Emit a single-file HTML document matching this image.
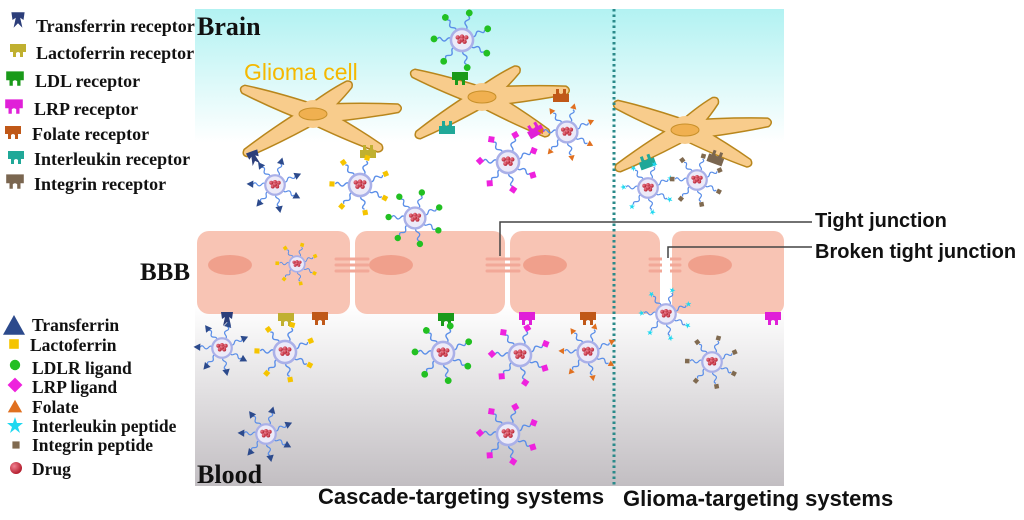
<!DOCTYPE html>
<html><head><meta charset="utf-8">
<style>
html,body{margin:0;padding:0;background:#fff;width:1024px;height:520px;overflow:hidden}
svg{display:block}
.lg{font-family:"Liberation Serif",serif;font-weight:bold;font-size:17.5px;fill:#111}
.sn{font-family:"Liberation Sans",sans-serif;font-weight:bold;fill:#111}
</style></head><body>
<svg id="s" width="1024" height="520" viewBox="0 0 1024 520" xmlns="http://www.w3.org/2000/svg">
<defs>
<linearGradient id="bg" x1="0" y1="0" x2="0" y2="1">
<stop offset="0" stop-color="#b2f2f2"/>
<stop offset="0.28" stop-color="#ffffff"/>
<stop offset="0.62" stop-color="#ffffff"/>
<stop offset="1" stop-color="#c2bec2"/>
</linearGradient>
<radialGradient id="dr" cx="0.35" cy="0.35" r="0.7"><stop offset="0" stop-color="#f08090"/><stop offset="1" stop-color="#b01828"/></radialGradient>
</defs>
<rect x="195" y="9" width="589" height="477" fill="url(#bg)"/>
<g id="cells"></g>
<g id="bbb">
<rect x="197" y="231" width="153" height="83" rx="12" fill="#f8c4b4"/>
<rect x="355" y="231" width="150" height="83" rx="12" fill="#f8c4b4"/>
<rect x="510" y="231" width="150" height="83" rx="12" fill="#f8c4b4"/>
<rect x="672" y="231" width="112" height="83" rx="10" fill="#f8c4b4"/>
<ellipse cx="230" cy="265" rx="22" ry="10" fill="#f0a08c"/>
<ellipse cx="391" cy="265" rx="22" ry="10" fill="#f0a08c"/>
<ellipse cx="545" cy="265" rx="22" ry="10" fill="#f0a08c"/>
<ellipse cx="710" cy="265" rx="22" ry="10" fill="#f0a08c"/>
<g stroke="#f2a898" stroke-width="3" stroke-linecap="round">
<line x1="336" y1="259" x2="368" y2="259"/><line x1="336" y1="265" x2="368" y2="265"/><line x1="336" y1="271" x2="368" y2="271"/>
<line x1="487" y1="259" x2="519" y2="259"/><line x1="487" y1="265" x2="519" y2="265"/><line x1="487" y1="271" x2="519" y2="271"/>
<line x1="650" y1="259" x2="680" y2="259"/><line x1="650" y1="265" x2="680" y2="265"/><line x1="650" y1="271" x2="680" y2="271"/>
</g>
<rect x="662" y="231" width="8" height="83" fill="#fff"/>
</g>
<line x1="614" y1="9" x2="614" y2="486" stroke="#2a8a8a" stroke-width="3" stroke-dasharray="2.5,3"/>
<polyline points="500,256 500,222 812,222" fill="none" stroke="#444" stroke-width="1.5"/>
<polyline points="668,258 668,247 812,247" fill="none" stroke="#444" stroke-width="1.5"/>
<g id="rec"></g>
<g id="np"></g>
<text x="197" y="35" class="lg" style="font-size:26px">Brain</text>
<text x="140" y="280" class="lg" style="font-size:25px">BBB</text>
<text x="197" y="483" class="lg" style="font-size:26px">Blood</text>
<text x="244" y="80" class="sn" style="font-size:23px;fill:#f5b800;font-weight:normal">Glioma cell</text>
<text x="815" y="227" class="sn" style="font-size:20px">Tight  junction</text>
<text x="815" y="258" class="sn" style="font-size:20px">Broken tight  junction</text>
<text x="318" y="504" class="sn" style="font-size:22px">Cascade-targeting systems</text>
<text x="623" y="506" class="sn" style="font-size:22px">Glioma-targeting systems</text>
<g id="leg"></g>
<text x="36" y="32" class="lg" style="font-size:18px">Transferrin receptor</text>
<text x="36" y="59" class="lg" style="font-size:18px">Lactoferrin receptor</text>
<text x="35" y="87" class="lg" style="font-size:18px">LDL receptor</text>
<text x="34" y="115" class="lg" style="font-size:18px">LRP receptor</text>
<text x="32" y="140" class="lg" style="font-size:18px">Folate receptor</text>
<text x="34" y="165" class="lg" style="font-size:18px">Interleukin receptor</text>
<text x="34" y="190" class="lg" style="font-size:18px">Integrin receptor</text>
<text x="32" y="331" class="lg">Transferrin</text>
<text x="30" y="351" class="lg">Lactoferrin</text>
<text x="32" y="374" class="lg">LDLR ligand</text>
<text x="32" y="393" class="lg">LRP ligand</text>
<text x="32" y="413" class="lg">Folate</text>
<text x="32" y="432" class="lg">Interleukin  peptide</text>
<text x="32" y="451" class="lg">Integrin peptide</text>
<text x="32" y="475" class="lg">Drug</text>
</svg>
<script>
var NS="http://www.w3.org/2000/svg";
function el(p,t,a){var e=document.createElementNS(NS,t);for(var k in a)e.setAttribute(k,a[k]);p.appendChild(e);return e;}
var C={tf:"#2c4a8c",lf:"#f5c400",ldl:"#22c022",lrp:"#ee22dd",fol:"#e07020",il:"#20d8f0",int:"#806a50"};
function lig(g,t,x,y,s,rot){
 var c=C[t];s=s||1;
 var gg=el(g,"g",{transform:"translate("+x+","+y+") rotate("+(rot||0)+") scale("+s+")"});
 if(t=="tf")el(gg,"polygon",{points:"0,-5 5,4 -5,4",fill:c});
 else if(t=="lf")el(gg,"rect",{x:-3,y:-3,width:6,height:6,fill:c});
 else if(t=="ldl")el(gg,"circle",{r:4,fill:c});
 else if(t=="lrp")el(gg,"rect",{x:-3.5,y:-3.5,width:7,height:7,fill:c,transform:"rotate(45)"});
 else if(t=="fol")el(gg,"polygon",{points:"0,-4 4,3 -4,3",fill:c});
 else if(t=="il")el(gg,"polygon",{points:"0,-4 1,-1 4,-1 1.5,1 2.5,4 0,2 -2.5,4 -1.5,1 -4,-1 -1,-1",fill:c});
 else if(t=="int")el(gg,"rect",{x:-3,y:-3,width:6,height:6,fill:c});
}
function np(x,y,t,sc){
 sc=sc||1;var g=el(document.getElementById("np"),"g",{transform:"translate("+x+","+y+") scale("+sc+")"});
 var n=7;
 for(var i=0;i<n;i++){
  var a=i*360/n+15;
  var ag=el(g,"g",{transform:"rotate("+a+")"});
  el(ag,"path",{d:"M0,-12 q4,-3 0,-6 q-4,-3 0,-6 q4,-3 0,-5",fill:"none",stroke:"#5a8ee8","stroke-width":1.6});
  lig(ag,t,0,-33,1,0);
 }
 el(g,"circle",{r:13,fill:"#eceaf8",stroke:"#aab0e8","stroke-width":3});
 [[-5,-3],[0,-4],[5,-3],[-3,2],[3,2],[0,-0.5]].forEach(function(p){el(g,"circle",{cx:p[0],cy:p[1],r:2.6,fill:"url(#dr)"});});
}
function cell(cx,cy,tips){
 var g=document.getElementById("cells");
 var ds=[];
 tips.forEach(function(t){var dx=t[0]-cx,dy=t[1]-cy,L=Math.sqrt(dx*dx+dy*dy),a=Math.atan2(dy,dx)*180/Math.PI;
  var w=9;
  var d="M-6,"+(-w)+" Q"+(L*0.5)+","+(-w*0.9)+" "+(L-4)+",-3.5 Q"+(L+1)+",0 "+(L-4)+",3.5 Q"+(L*0.5)+","+(w*0.9)+" -6,"+w+" Z";
  ds.push({d:d,tr:"translate("+cx+","+cy+") rotate("+a+")"});});
 ds.forEach(function(r){el(g,"path",{d:r.d,transform:r.tr,fill:"#f8cc8c",stroke:"#b8861c","stroke-width":3,"stroke-linejoin":"round"});});
 el(g,"circle",{cx:cx,cy:cy,r:14,fill:"#f8cc8c"});
 ds.forEach(function(r){el(g,"path",{d:r.d,transform:r.tr,fill:"#f8cc8c"});});
 el(g,"ellipse",{cx:cx,cy:cy,rx:14,ry:6,fill:"#f0b050",stroke:"#c8902a","stroke-width":1});
}
cell(313,114,[[240,88],[243,155],[352,82],[402,108],[383,150]]);
cell(482,97,[[410,72],[415,137],[520,67],[570,90],[550,135]]);
cell(685,130,[[613,103],[615,170],[718,98],[772,122],[752,165]]);
function rec(p,x,y,t,s,rot){
 var col={tf:"#2c3e7a",lf:"#c0b030",ldl:"#1a9a1a",lrp:"#e020d8",fol:"#c05818",il:"#20a898",int:"#7a6650"}[t];
 var g=el(p,"g",{transform:"translate("+x+","+y+") rotate("+(rot||0)+") scale("+(s||1)+")"});
 if(t=="tf")el(g,"polygon",{points:"-6,-7 6,-7 5,0 2,-2 4,7 0,3 -4,7 -2,-2 -5,0",fill:col});
 else el(g,"path",{d:"M-8,-6 H8 V2 L5,2 L5,7 L2,7 L2,3 Q0,1 -2,3 L-2,7 L-5,7 L-5,2 L-8,2 Z",fill:col});
}
var R=document.getElementById("rec");
rec(R,227,319,"tf");rec(R,286,319,"lf");rec(R,320,318,"fol");rec(R,446,319,"ldl");rec(R,527,318,"lrp");rec(R,588,318,"fol");rec(R,773,318,"lrp");
rec(R,254,158,"tf",1,-20);rec(R,368,152,"lf",1,180);rec(R,460,78,"ldl",1,0);rec(R,447,128,"il",1,180);rec(R,535,130,"lrp",1,150);rec(R,561,96,"fol",1,180);rec(R,647,162,"il",1,160);rec(R,716,158,"int",1,200);
var L=document.getElementById("leg");
rec(L,18,20,"tf",1.1);rec(L,18,50,"lf",1);rec(L,15,78,"ldl",1.1);rec(L,14,106,"lrp",1.1);rec(L,13,132,"fol",1);rec(L,16,157,"il",1);rec(L,15,181,"int",1.1);
lig(L,"tf",14,326,2.2);lig(L,"lf",14,344,1.6);lig(L,"ldl",15,365,1.3);lig(L,"lrp",15,385,1.5);lig(L,"fol",15,407,1.8);lig(L,"il",15,425,2);lig(L,"int",16,445,1.2);
el(L,"circle",{cx:16,cy:468,r:6,fill:"url(#dr)"});
np(275,185,"tf",0.75);np(360,185,"lf",0.85);np(462,40,"ldl",0.85);np(415,218,"ldl",0.8);np(508,162,"lrp",0.85);np(567,132,"fol",0.8);np(648,188,"il",0.75);np(697,180,"int",0.75);
np(297,264,"lf",0.6);
np(222,348,"tf",0.75);np(285,352,"lf",0.85);np(443,353,"ldl",0.85);np(520,355,"lrp",0.85);np(588,352,"fol",0.8);np(666,314,"il",0.75);np(712,362,"int",0.75);np(266,434,"tf",0.75);np(508,434,"lrp",0.85);
</script>
</body></html>
